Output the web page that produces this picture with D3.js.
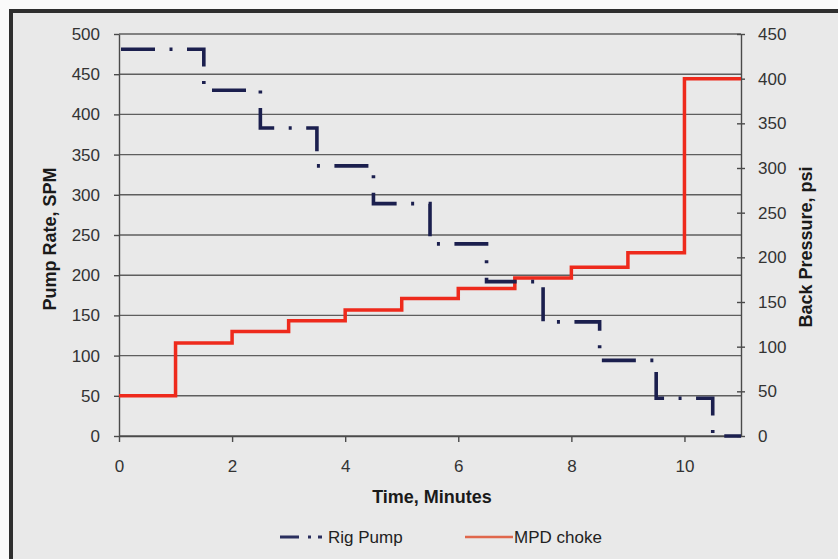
<!DOCTYPE html>
<html>
<head>
<meta charset="utf-8">
<script src="https://cdn.jsdelivr.net/npm/d3@7"></script>
<style>
  html, body { margin: 0; padding: 0; background: #fff; }
  svg text { font-family: "Liberation Sans", Arial, sans-serif; }
</style>
</head>
<body>
<svg id="chart" width="838" height="559"></svg>
<script>
// ---- data ----
const chokeTime = [0, 1, 2, 3, 4, 5, 6, 7, 8, 9, 10, 11];
const chokePsi  = [45, 104, 117, 129, 141, 154, 165, 177, 189, 205, 400, 400];
const pumpTime  = [0, 1.5, 2.5, 3.5, 4.5, 5.5, 6.5, 7.5, 8.5, 9.5, 10.5, 11];
const pumpSpm   = [481, 430, 383, 336, 289, 239, 192, 142, 94, 47, 0, 0];
const xTicks     = [0, 2, 4, 6, 8, 10];
const leftTicks  = [0, 50, 100, 150, 200, 250, 300, 350, 400, 450, 500];
const rightTicks = [0, 50, 100, 150, 200, 250, 300, 350, 400, 450];
const seriesNames = ["Rig Pump", "MPD choke"];

// ---- layout ----
const svg = d3.select("#chart");
const W = 838, H = 559;
const L = 119, R = 741, T = 34, B = 436;

const x  = d3.scaleLinear().domain([0, 11]).range([L, R]);
const yL = d3.scaleLinear().domain([0, 500]).range([B, T]);
const yR = d3.scaleLinear().domain([0, 450]).range([B, T]);

// paper background with frame
svg.append("rect").attr("x", 0).attr("y", 0).attr("width", W).attr("height", H).attr("fill", "#fafafa");
svg.append("rect").attr("x", 9).attr("y", 9).attr("width", W - 9).attr("height", H - 9).attr("fill", "#2e2e2e");
svg.append("rect").attr("x", 13).attr("y", 13).attr("width", W - 13).attr("height", H - 13).attr("fill", "#e9e9e9");

// gridlines
svg.append("g").selectAll("line").data(leftTicks).join("line")
  .attr("x1", L).attr("x2", R)
  .attr("y1", d => yL(d)).attr("y2", d => yL(d))
  .attr("stroke", "#5e5e5e").attr("stroke-width", 1.4);

// axes
const axisColor = "#4a4a4a";
function styleAxis(g) {
  g.selectAll("path, line").attr("stroke", axisColor).attr("stroke-width", 1.4);
  g.selectAll("text").attr("fill", "#333").attr("font-size", 17)
    .attr("font-family", "'Liberation Sans', Arial, sans-serif");
}

const gx = svg.append("g").attr("transform", `translate(0,${B})`)
  .call(d3.axisBottom(x).tickValues(xTicks).tickFormat(d3.format("d")).tickSizeOuter(0).tickSizeInner(6).tickPadding(18));
styleAxis(gx);

const gl = svg.append("g").attr("transform", `translate(${L},0)`)
  .call(d3.axisLeft(yL).tickValues(leftTicks).tickFormat(d3.format("d")).tickSizeOuter(0).tickSizeInner(5).tickPadding(14));
styleAxis(gl);

const gr = svg.append("g").attr("transform", `translate(${R},0)`)
  .call(d3.axisRight(yR).tickValues(rightTicks).tickFormat(d3.format("d")).tickSizeOuter(0).tickSizeInner(4).tickPadding(13));
styleAxis(gr);
gr.selectAll(".tick line").attr("x1", -4);

// series
const chokeData = chokeTime.map((t, i) => [t, chokePsi[i]]);
const pumpData  = pumpTime.map((t, i) => [t, pumpSpm[i]]);

svg.append("path")
  .datum(chokeData)
  .attr("fill", "none")
  .attr("stroke", "#ee2a1c")
  .attr("stroke-width", 3.5)
  .attr("d", d3.line().x(d => x(d[0])).y(d => yR(d[1])).curve(d3.curveStepAfter));

svg.append("path")
  .datum(pumpData)
  .attr("fill", "none")
  .attr("stroke", "#1b1f4e")
  .attr("stroke-width", 3.6)
  .attr("stroke-dasharray", "34,14.5,3,14.5")
  .attr("stroke-dashoffset", -2)
  .attr("d", d3.line().x(d => x(d[0])).y(d => yL(d[1])).curve(d3.curveStepAfter));

// axis titles
svg.append("text")
  .attr("x", 432).attr("y", 503)
  .attr("text-anchor", "middle")
  .attr("font-size", 18).attr("font-weight", "bold").attr("fill", "#1a1a1a")
  .text("Time, Minutes");

svg.append("text")
  .attr("transform", "translate(56,239) rotate(-90)")
  .attr("text-anchor", "middle")
  .attr("font-size", 18).attr("font-weight", "bold").attr("fill", "#1a1a1a")
  .text("Pump Rate, SPM");

svg.append("text")
  .attr("transform", "translate(812,247) rotate(-90)")
  .attr("text-anchor", "middle")
  .attr("font-size", 18).attr("font-weight", "bold").attr("fill", "#1a1a1a")
  .text("Back Pressure, psi");

// legend
const lg = svg.append("g");
lg.append("line").attr("x1", 280).attr("x2", 322).attr("y1", 537).attr("y2", 537)
  .attr("stroke", "#2a2f5e").attr("stroke-width", 3)
  .attr("stroke-dasharray", "19,9,3,7,4,100");
lg.append("text").attr("x", 328).attr("y", 543).attr("font-size", 17).attr("fill", "#222").text(seriesNames[0]);
lg.append("line").attr("x1", 465).attr("x2", 513).attr("y1", 537).attr("y2", 537)
  .attr("stroke", "#e0674c").attr("stroke-width", 2.6);
lg.append("text").attr("x", 514).attr("y", 543).attr("font-size", 17).attr("fill", "#222").text(seriesNames[1]);
</script>
</body>
</html>
